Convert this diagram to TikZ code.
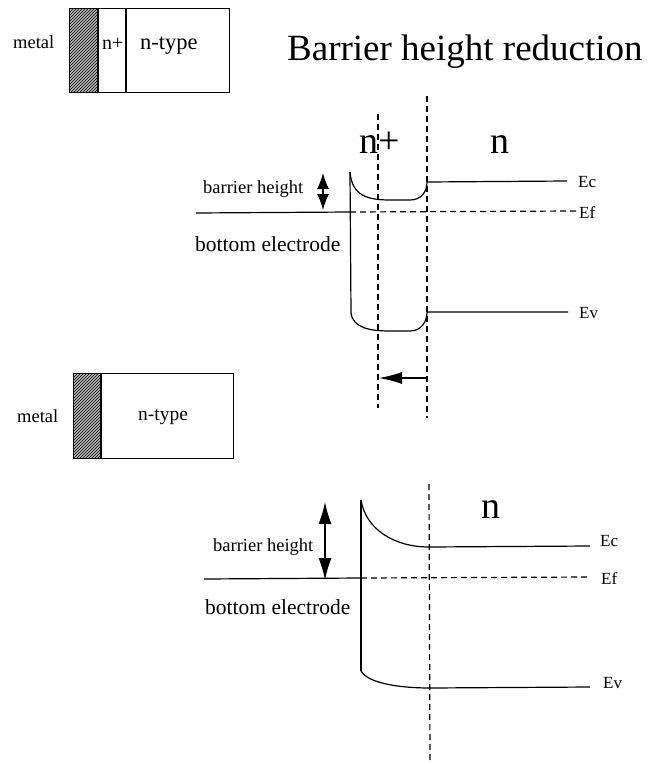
\documentclass[tikz,border=0pt]{standalone}
\usepackage{fontspec}
\setmainfont{Liberation Serif}
\usetikzlibrary{arrows.meta,patterns}
\begin{document}
\begin{tikzpicture}[x=1pt,y=-1pt,
  band/.style={line width=1.2pt},
  dashln/.style={line width=1.2pt,dash pattern=on 6pt off 4pt},
  lbl/.style={inner sep=0pt,anchor=base west},
  box/.style={draw,line width=1.2pt},
  small/.style={lbl,font=\fontsize{18.5}{20}\selectfont},
  elbl/.style={lbl,font=\fontsize{17}{19}\selectfont},
  big/.style={inner sep=0pt,anchor=base,font=\fontsize{38}{42}\selectfont}]
\useasboundingbox (0,0) rectangle (652,763);

% ---------- top device box ----------
\fill[gray!55] (69,8) rectangle (98,92);
\path[pattern=north east lines,pattern color=black] (69,8) rectangle (98,92);
\node[box,minimum width=160pt,minimum height=84pt,anchor=north west,inner sep=0pt] (dev1) at (69,8) {};
\draw[line width=1.2pt] (98,8) -- (98,92);
\draw[line width=1.2pt] (126,8) -- (126,92);
\node[small] (m1) at (13,48) {metal};
\node[small,font=\fontsize{20}{22}\selectfont] (np1) at (102,49) {n+};
\node[small,font=\fontsize{22.5}{24}\selectfont] (nt1) at (140,49) {n-type};

% ---------- title ----------
\node[lbl,font=\fontsize{37}{42}\selectfont] (title) at (287,60) {Barrier height reduction};

% ---------- top band diagram ----------
\coordinate (d1t) at (378,114);
\coordinate (d1b) at (378,408);
\coordinate (d2t) at (427,96);
\coordinate (d2b) at (427,418);
\draw[dashln] (d1t) -- (d1b);
\draw[dashln] (d2t) -- (d2b);

\node[big] (lnp) at (380,153) {n+};
\node[big] (ln) at (500,153) {n};

\coordinate (ec1a) at (350,172);
\coordinate (ec1b) at (427,182);
\coordinate (ec1e) at (567,181);
\draw[band] (ec1a) .. controls (352,196) and (368,200) .. (390,200) -- (410,200)
  .. controls (421,200) and (427,192) .. (ec1b) -- (ec1e);
\node[elbl] (lec1) at (578,187) {Ec};

\coordinate (ef1a) at (196,213);
\coordinate (ef1m) at (350,212);
\coordinate (ef1e) at (576,211);
\draw[band] (ef1a) -- (ef1m);
\draw[band,dash pattern=on 6pt off 4pt] (ef1m) -- (ef1e);
\node[elbl] (lef1) at (579,218) {Ef};

\coordinate (ev1a) at (351,313);
\coordinate (ev1b) at (427,312);
\coordinate (ev1e) at (568,312);
\draw[band] (ec1a) -- (ev1a);
\draw[band] (ev1a) .. controls (353,328) and (370,331) .. (390,331) -- (410,331)
  .. controls (421,331) and (427,322) .. (ev1b) -- (ev1e);
\node[elbl] (lev1) at (579,318) {Ev};

\coordinate (bh1t) at (323,173);
\coordinate (bh1b) at (323,210);
\draw[line width=1.2pt,{Latex[length=16pt,width=12pt]}-{Latex[length=16pt,width=12pt]}] (bh1t) -- (bh1b);
\node[small] (lbh1) at (203,193) {barrier height};
\node[lbl,font=\fontsize{21.5}{24}\selectfont] (lbe1) at (195,251) {bottom electrode};

\coordinate (sh1) at (427,378);
\coordinate (sh2) at (379,378);
\draw[line width=1.2pt,-{Latex[length=23pt,width=12pt]}] (sh1) -- (sh2);

% ---------- bottom device box ----------
\fill[gray!55] (73,373) rectangle (101,458);
\path[pattern=north east lines,pattern color=black] (73,373) rectangle (101,458);
\node[box,minimum width=160pt,minimum height=85pt,anchor=north west,inner sep=0pt] (dev2) at (73,373) {};
\draw[line width=1.2pt] (101,373) -- (101,458);
\node[small] (m2) at (17,422) {metal};
\node[small,font=\fontsize{19.5}{22}\selectfont] (nt2) at (138,420) {n-type};

% ---------- bottom band diagram ----------
\coordinate (d3t) at (429,484);
\coordinate (d3b) at (430,763);
\draw[dashln] (d3t) -- (d3b);

\node[big] (ln2) at (491,518) {n};

\coordinate (ec2a) at (361,500);
\coordinate (ec2b) at (429,547);
\coordinate (ec2e) at (590,546);
\draw[band] (ec2a) .. controls (366,530) and (395,547) .. (ec2b) -- (ec2e);
\node[elbl] (lec2) at (600,546) {Ec};

\coordinate (ef2a) at (204,579);
\coordinate (ef2m) at (361,578);
\coordinate (ef2e) at (590,577);
\draw[band] (ef2a) -- (ef2m);
\draw[band,dash pattern=on 6pt off 4pt] (ef2m) -- (ef2e);
\node[elbl] (lef2) at (601,584) {Ef};

\coordinate (ev2a) at (361,671);
\coordinate (ev2b) at (430,688);
\coordinate (ev2e) at (590,687);
\draw[band] (ec2a) -- (ev2a);
\draw[band] (ev2a) .. controls (368,683) and (398,688) .. (ev2b) -- (ev2e);
\node[elbl] (lev2) at (603,688) {Ev};

\coordinate (bh2t) at (325,502);
\coordinate (bh2b) at (325,580);
\draw[line width=1.2pt,{Latex[length=22pt,width=13pt]}-{Latex[length=22pt,width=13pt]}] (bh2t) -- (bh2b);
\node[small] (lbh2) at (213,551) {barrier height};
\node[lbl,font=\fontsize{21.5}{24}\selectfont] (lbe2) at (205,614) {bottom electrode};
\end{tikzpicture}
\end{document}
